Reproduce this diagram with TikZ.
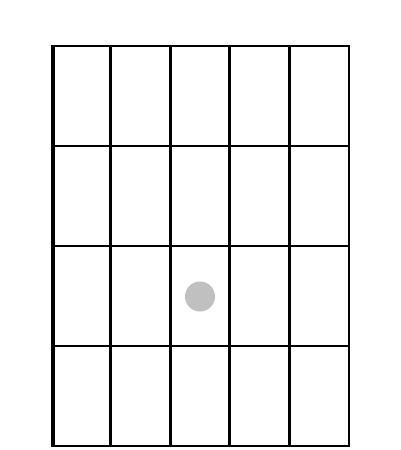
\documentclass[tikz,border=0pt]{standalone}
\definecolor{dotgray}{RGB}{192,192,192}
\tikzset{fret/.style={line width=2pt,black},
  stringline/.style={black},
  fingerdot/.style={circle,fill=dotgray,minimum size=30pt,inner sep=0pt}}
\begin{document}
\begin{tikzpicture}[x=1pt,y=-1pt]
\useasboundingbox (0,0) rectangle (400,450);
\fill[white] (0,0) rectangle (400,450);
% frets
\foreach \y in {46,146,246,346,446} \draw[fret] (51,\y) -- (349,\y);
% strings
\draw[stringline,line width=4pt] (52.5,45) -- (52.5,447);
\draw[stringline,line width=3.6pt] (110.5,45) -- (110.5,447);
\draw[stringline,line width=3.2pt] (170.5,45) -- (170.5,447);
\draw[stringline,line width=2.8pt] (229.5,45) -- (229.5,447);
\draw[stringline,line width=2.4pt] (289.5,45) -- (289.5,447);
\draw[stringline,line width=2pt] (348.5,45) -- (348.5,447);
\node[fingerdot] (dot) at (200,296.5) {};
\end{tikzpicture}
\end{document}
